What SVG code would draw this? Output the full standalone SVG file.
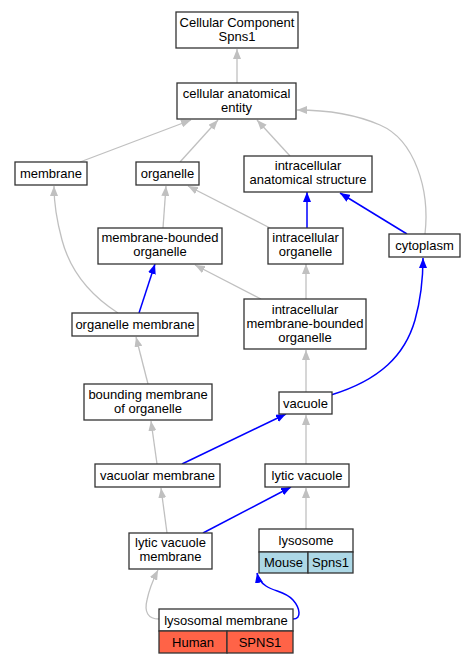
<svg xmlns="http://www.w3.org/2000/svg" width="475" height="664" viewBox="0 0 475 664">
<defs>
<style>
.n rect{fill:#fff;stroke:#333;stroke-width:1.3}
text{font-family:"Liberation Sans",Arial,sans-serif;font-size:13px;text-anchor:middle;fill:#000}
.g{fill:none;stroke:#c0c0c0;stroke-width:1.3}
.b{fill:none;stroke:#0000ff;stroke-width:1.5}
</style>
<marker id="ag" markerUnits="userSpaceOnUse" markerWidth="10" markerHeight="8" refX="10" refY="4" orient="auto"><path d="M0,0 L10,4 L0,8 z" fill="#c0c0c0"/></marker>
<marker id="ab" markerUnits="userSpaceOnUse" markerWidth="10" markerHeight="8" refX="10" refY="4" orient="auto"><path d="M0,0 L10,4 L0,8 z" fill="#0000ff"/></marker>
</defs>
<rect width="475" height="664" fill="#fff"/>
<g id="edges">
<path class="g" marker-end="url(#ag)" d="M237,83 L237,49"/>
<path class="g" marker-end="url(#ag)" d="M80,162 L191,120"/>
<path class="g" marker-end="url(#ag)" d="M180,162 L218,120"/>
<path class="g" marker-end="url(#ag)" d="M290,156 L257,120"/>
<path class="g" marker-end="url(#ag)" d="M425,234 C430,190 415,140 380,125 C350,112 320,110 297,110"/>
<path class="g" marker-end="url(#ag)" d="M163,228 L166,186"/>
<path class="g" marker-end="url(#ag)" d="M270,228 L188,186"/>
<path class="b" marker-end="url(#ab)" d="M307,228 L307,192"/>
<path class="b" marker-end="url(#ab)" d="M407,234 L340,193"/>
<path class="b" marker-end="url(#ab)" d="M139,313 L155,264"/>
<path class="g" marker-end="url(#ag)" d="M118,313 C90,295 70,270 62,240 C56,218 54,200 54,186"/>
<path class="g" marker-end="url(#ag)" d="M261,299 L195,265"/>
<path class="g" marker-end="url(#ag)" d="M306,299 L306,264"/>
<path class="g" marker-end="url(#ag)" d="M306,392 L306,350"/>
<path class="b" marker-end="url(#ab)" d="M331,395 C380,380 405,355 415,320 C422,295 423,275 423,258"/>
<path class="g" marker-end="url(#ag)" d="M148,384 L136,337"/>
<path class="g" marker-end="url(#ag)" d="M157,464 L151,421"/>
<path class="b" marker-end="url(#ab)" d="M182,464 L286,414"/>
<path class="g" marker-end="url(#ag)" d="M306,464 L306,415"/>
<path class="g" marker-end="url(#ag)" d="M167,533 L161,488"/>
<path class="b" marker-end="url(#ab)" d="M203,533 L291,487"/>
<path class="g" marker-end="url(#ag)" d="M306,529 L306,488"/>
<path class="g" marker-end="url(#ag)" d="M159,619 C148,619 144,612 147,600 C149,590 153,580 158,570"/>
<path class="b" marker-end="url(#ab)" d="M293,619 C302,619 300,608 293,600 C285,591 275,592 266,586 C260,582 258,578 257,573"/>
</g>
<g id="n1" class="n"><rect x="176" y="12" width="122" height="36"/><text x="237" y="27">Cellular Component</text><text x="237" y="41">Spns1</text></g>
<g id="n2" class="n"><rect x="177" y="83" width="119" height="36"/><text x="236.5" y="98">cellular anatomical</text><text x="236.5" y="112">entity</text></g>
<g id="n3" class="n"><rect x="15" y="162" width="72" height="23"/><text x="51" y="178">membrane</text></g>
<g id="n4" class="n"><rect x="136" y="162" width="63" height="23"/><text x="167.5" y="178">organelle</text></g>
<g id="n5" class="n"><rect x="244" y="156" width="128" height="36"/><text x="308" y="170">intracellular</text><text x="308" y="184">anatomical structure</text></g>
<g id="n6" class="n"><rect x="98" y="228" width="124" height="36"/><text x="160" y="242">membrane-bounded</text><text x="160" y="256">organelle</text></g>
<g id="n7" class="n"><rect x="268" y="228" width="75" height="36"/><text x="305.5" y="242">intracellular</text><text x="305.5" y="256">organelle</text></g>
<g id="n8" class="n"><rect x="389" y="234" width="71" height="23"/><text x="424.5" y="250">cytoplasm</text></g>
<g id="n9" class="n"><rect x="72" y="313" width="126" height="23"/><text x="135" y="329">organelle membrane</text></g>
<g id="n10" class="n"><rect x="244" y="299" width="122" height="50"/><text x="305" y="314">intracellular</text><text x="305" y="328">membrane-bounded</text><text x="305" y="342">organelle</text></g>
<g id="n11" class="n"><rect x="84" y="384" width="128" height="36"/><text x="148" y="399">bounding membrane</text><text x="148" y="413">of organelle</text></g>
<g id="n12" class="n"><rect x="279" y="392" width="53" height="22"/><text x="305.5" y="407.5">vacuole</text></g>
<g id="n13" class="n"><rect x="95" y="464" width="125" height="23"/><text x="157.5" y="480">vacuolar membrane</text></g>
<g id="n14" class="n"><rect x="265" y="464" width="84" height="23"/><text x="307" y="480">lytic vacuole</text></g>
<g id="n15" class="n"><rect x="129" y="533" width="83" height="36"/><text x="170.5" y="547">lytic vacuole</text><text x="170.5" y="561">membrane</text></g>
<g id="n16" class="n"><rect x="259" y="529" width="94" height="23"/><rect x="259" y="552" width="49" height="21" style="fill:#add8e6"/><rect x="308" y="552" width="45" height="21" style="fill:#add8e6"/><text x="306" y="545">lysosome</text><text x="283.5" y="567">Mouse</text><text x="330.5" y="567">Spns1</text></g>
<g id="n17" class="n"><rect x="159" y="609" width="134" height="22"/><rect x="159" y="631" width="68" height="22" style="fill:#ff6347"/><rect x="227" y="631" width="66" height="22" style="fill:#ff6347"/><text x="226" y="624.5">lysosomal membrane</text><text x="193" y="646.5">Human</text><text x="260" y="646.5">SPNS1</text></g>
</svg>
